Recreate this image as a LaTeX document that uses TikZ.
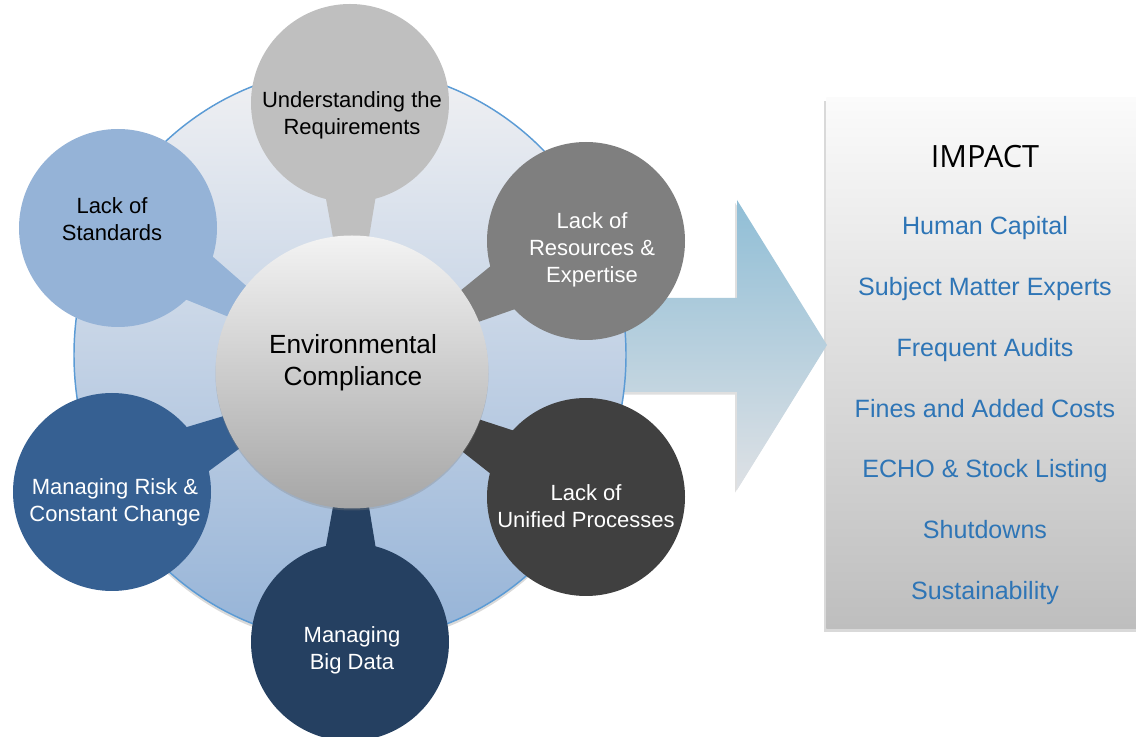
\documentclass[tikz,border=0pt]{standalone}
\usepackage{fontspec}
\setmainfont{Liberation Sans}
\newfontfamily\impactfont{Open Sans}
\usetikzlibrary{calc,shadows,shapes.geometric}
\definecolor{ringblue}{RGB}{91,155,213}
\definecolor{ringtop}{RGB}{241,241,243}
\definecolor{ringbot}{RGB}{149,179,215}
\definecolor{cgray}{RGB}{191,191,191}
\definecolor{cstd}{RGB}{149,179,215}
\definecolor{cres}{RGB}{127,127,127}
\definecolor{crisk}{RGB}{54,96,146}
\definecolor{cbig}{RGB}{37,64,97}
\definecolor{cuni}{RGB}{64,64,64}
\definecolor{envtop}{RGB}{243,243,243}
\definecolor{envbot}{RGB}{166,166,166}
\definecolor{impblue}{RGB}{46,117,182}
\definecolor{arrtop}{RGB}{144,190,214}
\definecolor{arrbot}{RGB}{222,225,229}
\definecolor{boxtop}{RGB}{251,251,251}
\definecolor{boxbot}{RGB}{190,190,190}
\begin{document}
\begin{tikzpicture}[x=0.75pt,y=-0.75pt,
  sat/.style={circle,minimum size=148.5pt,inner sep=0pt,draw=none},
  sattext/.style={align=center,font=\fontsize{16.5}{20.25}\selectfont,inner sep=0pt},
  whitetext/.style={sattext,text=white},
  item/.style={font=\fontsize{18.8}{22}\selectfont,text=impblue,inner sep=0pt,anchor=base}
]
\useasboundingbox (0,0) rectangle (1136,737);
\clip (0,0) rectangle (1136,737);

% impact box
\node[rectangle,minimum width=243pt,minimum height=398.25pt,inner sep=0pt,anchor=north west,
  top color=boxtop,bottom color=boxbot,
  drop shadow={opacity=0.3,shadow xshift=-1.5pt,shadow yshift=-2.5pt}] (box) at (826,97) {};
\node[font=\impactfont\fontsize{23}{26}\selectfont,anchor=base,inner sep=0pt] (imp) at (985,168) {IMPACT};
\node[item] (i1) at (985,235) {Human Capital};
\node[item] (i2) at (985,296) {Subject Matter Experts};
\node[item] (i3) at (985,357) {Frequent Audits};
\node[item] (i4) at (985,418) {Fines and Added Costs};
\node[item] (i5) at (985,478) {ECHO \& Stock Listing};
\node[item] (i6) at (985,539) {Shutdowns};
\node[item] (i7) at (985,600) {Sustainability};

% arrow
\shade[top color=arrtop,bottom color=arrbot,
  drop shadow={opacity=0.25,shadow xshift=-1.5pt,shadow yshift=-2pt}]
  (600,298) -- (737,298) -- (737,200) -- (827,345) -- (737,490) -- (737,392) -- (600,392) -- cycle;

% ring
\node[ellipse,minimum width=414pt,minimum height=430.5pt,inner sep=0pt,
  top color=ringtop,bottom color=ringbot,draw=ringblue,line width=1.1pt,
  drop shadow={opacity=0.3,shadow xshift=0pt,shadow yshift=-2.5pt}] (ring) at (350,355) {};

\coordinate (envc) at (352,372);

% satellites
\node[sat,fill=cgray] (und) at (350,103) {};
\node[sat,fill=cstd] (std) at (118,228) {};
\node[sat,fill=cres] (res) at (586,241) {};
\node[sat,fill=crisk] (risk) at (112,492) {};
\node[sat,fill=cbig] (big) at (350,642) {};
\node[sat,fill=cuni] (uni) at (586,497) {};

% tails
\foreach \s/\c in {und/cgray,std/cstd,res/cres,risk/crisk,big/cbig,uni/cuni}{
  \path ($(envc)!75pt!(\s.center)$) coordinate (p\s);
  \fill[\c] ($(\s.center)!31pt!90:(envc)$) -- ($(\s.center)!31pt!-90:(envc)$)
    -- ($(p\s)!9pt!90:(\s.center)$) -- ($(p\s)!9pt!-90:(\s.center)$) -- cycle;
}

% center
\node[circle,minimum size=204.75pt,inner sep=0pt,top color=envtop,bottom color=envbot,
  drop shadow={opacity=0.3,shadow xshift=0pt,shadow yshift=-1.5pt}] (env) at (envc) {};
\node[align=center,font=\fontsize{19.7}{24}\selectfont,inner sep=0pt] (tenv) at (353,363) {Environmental\\Compliance};

% satellite texts
\node[sattext] (tund) at (352,115) {Understanding the\\Requirements};
\node[sattext] (tstd) at (112,219) {Lack of\\Standards};
\node[whitetext] (tres) at (592,250) {Lack of\\Resources \&\\Expertise};
\node[whitetext] (trisk) at (115,502) {Managing Risk \&\\Constant Change};
\node[whitetext] (tbig) at (352,650) {Managing\\Big Data};
\node[whitetext] (tuni) at (586,506) {Lack of\\Unified Processes};
\end{tikzpicture}
\end{document}
